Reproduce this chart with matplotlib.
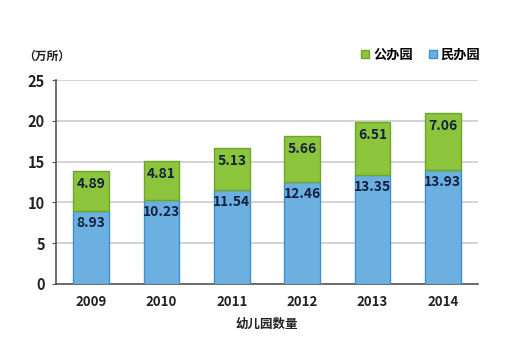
import numpy as np
import matplotlib.pyplot as plt

plt.rcParams['font.family'] = ['Noto Sans CJK SC', 'DejaVu Sans']

years = ['2009', '2010', '2011', '2012', '2013', '2014']
private = [8.93, 10.23, 11.54, 12.46, 13.35, 13.93]   # 民办园
public = [4.89, 4.81, 5.13, 5.66, 6.51, 7.06]         # 公办园

blue = '#6cb0e2'
blue_edge = '#3d8fcf'
green = '#8cc43c'
green_edge = '#6fa52a'
text_col = '#14213d'

fig = plt.figure(figsize=(5.1, 3.54), dpi=100)
ax = fig.add_axes([0.11, 0.198, 0.827, 0.576])

x = np.arange(len(years))
w = 0.51
b1 = ax.bar(x, private, w, color=blue, edgecolor=blue_edge, linewidth=1, label='民办园', zorder=3)
b2 = ax.bar(x, public, w, bottom=private, color=green, edgecolor=green_edge, linewidth=1, label='公办园', zorder=3)

for i in range(len(years)):
    ax.annotate(f'{private[i]:.2f}', (x[i], private[i]), xytext=(0, -8.5), textcoords='offset points',
                ha='center', va='center', fontsize=10, fontweight='bold', color=text_col, zorder=4)
    top = private[i] + public[i]
    ax.annotate(f'{public[i]:.2f}', (x[i], top), xytext=(0, -9.5), textcoords='offset points',
                ha='center', va='center', fontsize=10, fontweight='bold', color=text_col, zorder=4)

ax.set_xlim(-0.5, len(years) - 0.5)
ax.set_ylim(0, 25)
ax.set_yticks([0, 5, 10, 15, 20, 25])
ax.set_xticks(x)
ax.set_xticklabels(years)
ax.yaxis.grid(True, color='#cccccc', linewidth=1.2, zorder=0)
ax.set_axisbelow(True)
for s in ['top', 'right']:
    ax.spines[s].set_visible(False)
ax.spines['left'].set_color('#555555')
ax.spines['bottom'].set_color('#555555')
ax.spines['left'].set_linewidth(1.2)
ax.spines['bottom'].set_linewidth(1.2)
ax.tick_params(axis='y', length=3, color='#555555', labelsize=10.5, pad=5)
ax.tick_params(axis='x', length=0, labelsize=9.5, pad=8)
for lab in ax.get_xticklabels() + ax.get_yticklabels():
    lab.set_fontweight('bold')
    lab.set_color('#222222')

ax.set_xlabel('幼儿园数量', fontsize=9, fontweight='bold', color='#222222', labelpad=6)
fig.text(0.045, 0.84, '（万所）', fontsize=8.5, fontweight='bold', color='#222222', ha='left', va='center')

fig.legend([b2, b1], ['公办园', '民办园'], loc='center right', bbox_to_anchor=(0.965, 0.845), ncol=2,
           frameon=False, handlelength=0.6, handleheight=0.6, handletextpad=0.3, columnspacing=1.2,
           prop={'size': 9.5, 'weight': 'bold'})

fig.savefig('out.png', dpi=100)
